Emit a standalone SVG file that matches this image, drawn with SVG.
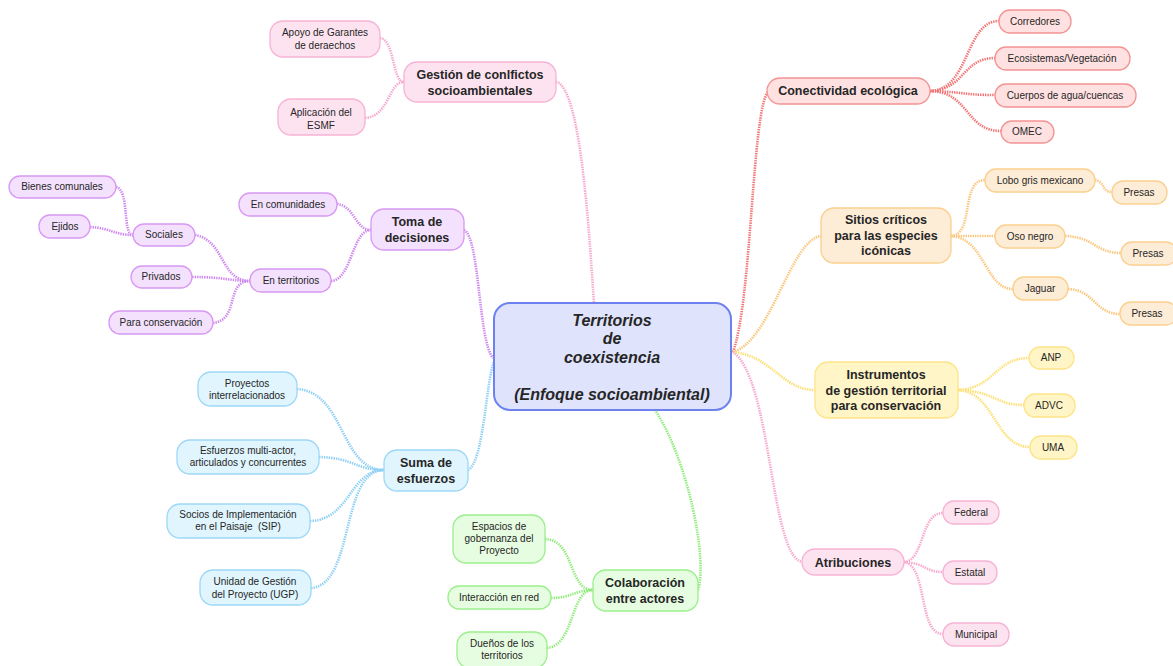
<svg xmlns="http://www.w3.org/2000/svg" width="1173" height="666" viewBox="0 0 1173 666">
<style>
text{font-family:"Liberation Sans",Arial,sans-serif;fill:#262626;text-anchor:middle}
.leaf{font-size:10px}
.main{font-size:12.5px;font-weight:bold}
.ctr{font-size:16px;font-weight:bold;font-style:italic}
rect{stroke-width:1.3}
.pk rect{fill:#fde3f0;stroke:#f8b2d5}
.pu rect{fill:#f3e1fd;stroke:#d898f4}
.bl rect{fill:#e0f5fd;stroke:#9dd7f7}
.gr rect{fill:#e6fde1;stroke:#9bef8b}
.rd rect{fill:#ffe1e1;stroke:#f39393}
.or rect{fill:#fdecd6;stroke:#fbcf8e}
.ye rect{fill:#fff5c6;stroke:#fde488}
.ce rect{fill:#dfe3fb;stroke:#6d82ef;stroke-width:2}
#connectors path{fill:none;stroke-width:2.6;stroke-dasharray:1.4 1}
.cpk{stroke:#f7a8cd}.cpu{stroke:#cf88f0}.cbl{stroke:#8fd0f5}.cgr{stroke:#8eec7a}
.crd{stroke:#f27474}.cor{stroke:#fbc67c}.cye{stroke:#fddf72}
</style>
<rect width="1173" height="666" fill="#ffffff"/>
<g id="connectors">
<path class="cpk" d="M556,82 C582,86 590,250 594,303"/>
<path class="cpk" d="M380,38 C395,40 392,82 404,82"/>
<path class="cpk" d="M365,118 C390,116 388,82 404,82"/>
<path class="cpu" d="M464,230 C480,238 478,340 493,358"/>
<path class="cpu" d="M337,204 C355,206 355,230 371,230"/>
<path class="cpu" d="M331,281 C352,280 352,230 371,230"/>
<path class="cpu" d="M195,235 C225,240 220,281 250,281"/>
<path class="cpu" d="M192,277 C225,277 230,281 250,281"/>
<path class="cpu" d="M213,323 C240,320 225,281 250,281"/>
<path class="cpu" d="M116,187 C130,190 122,235 133,235"/>
<path class="cpu" d="M90,227 C110,228 115,235 133,235"/>
<path class="cbl" d="M468,470 C484,462 486,380 494,362"/>
<path class="cbl" d="M297,389 C345,392 340,470 384,470"/>
<path class="cbl" d="M319,457 C355,458 355,470 384,470"/>
<path class="cbl" d="M310,521 C350,520 350,470 384,470"/>
<path class="cbl" d="M311,588 C355,585 340,470 384,470"/>
<path class="cgr" d="M698,590 C708,560 688,460 655,410"/>
<path class="cgr" d="M545,539 C575,540 568,590 593,590"/>
<path class="cgr" d="M551,598 C572,598 575,590 593,590"/>
<path class="cgr" d="M547,648 C575,645 570,590 593,590"/>
<path class="crd" d="M733,352 C752,300 752,110 768,92"/>
<path class="crd" d="M930,91 C970,90 965,21 999,21"/>
<path class="crd" d="M930,91 C965,90 962,58 995,58"/>
<path class="crd" d="M930,91 C965,92 962,95 995,95"/>
<path class="crd" d="M930,91 C970,92 965,131 1001,131"/>
<path class="cor" d="M733,352 C772,340 790,240 821,236"/>
<path class="cor" d="M951,236 C975,234 960,180 985,180"/>
<path class="cor" d="M951,236 C975,236 975,236 995,236"/>
<path class="cor" d="M951,236 C985,238 985,289 1013,289"/>
<path class="cor" d="M1095,180 C1105,182 1102,192 1112,192"/>
<path class="cor" d="M1065,236 C1095,237 1095,253 1121,253"/>
<path class="cor" d="M1068,289 C1095,290 1095,314 1120,314"/>
<path class="cye" d="M733,352 C772,356 782,390 815,390"/>
<path class="cye" d="M958,390 C995,388 995,358 1029,358"/>
<path class="cye" d="M958,390 C995,391 995,405 1024,405"/>
<path class="cye" d="M958,390 C995,392 995,447 1030,447"/>
<path class="cpk" d="M733,352 C772,380 770,555 802,562"/>
<path class="cpk" d="M904,562 C925,560 920,513 943,513"/>
<path class="cpk" d="M904,562 C925,563 925,572 943,572"/>
<path class="cpk" d="M904,562 C928,566 918,634 943,634"/>
</g>
<g id="center" class="ce"><rect x="494" y="303" width="237" height="107" rx="16"/>
<text class="ctr" x="612" y="326">Territorios</text><text class="ctr" x="612" y="344">de</text><text class="ctr" x="612" y="363">coexistencia</text><text class="ctr" x="612" y="400">(Enfoque socioambiental)</text></g>
<g id="gestion" class="pk"><rect x="404" y="62" width="152" height="40" rx="13"/><text class="main" x="480" y="79">Gestión de conlfictos</text><text class="main" x="480" y="95">socioambientales</text></g>
<g id="apoyo" class="pk"><rect x="270" y="21" width="110" height="36" rx="13"/><text class="leaf" x="325" y="36">Apoyo de Garantes</text><text class="leaf" x="325" y="49">de deraechos</text></g>
<g id="esmf" class="pk"><rect x="278" y="99" width="87" height="36" rx="13"/><text class="leaf" x="321" y="116">Aplicación del</text><text class="leaf" x="321" y="129">ESMF</text></g>
<g id="toma" class="pu"><rect x="371" y="209" width="93" height="41" rx="13"/><text class="main" x="417" y="226">Toma de</text><text class="main" x="417" y="242">decisiones</text></g>
<g id="comunidades" class="pu"><rect x="239" y="193" width="98" height="23" rx="11"/><text class="leaf" x="288" y="208">En comunidades</text></g>
<g id="territorios" class="pu"><rect x="250" y="269" width="81" height="23" rx="11"/><text class="leaf" x="291" y="284">En territorios</text></g>
<g id="sociales" class="pu"><rect x="133" y="224" width="62" height="22" rx="11"/><text class="leaf" x="164" y="238">Sociales</text></g>
<g id="bienes" class="pu"><rect x="9" y="176" width="107" height="22" rx="11"/><text class="leaf" x="62" y="190">Bienes comunales</text></g>
<g id="ejidos" class="pu"><rect x="39" y="215" width="51" height="23" rx="11"/><text class="leaf" x="65" y="230">Ejidos</text></g>
<g id="privados" class="pu"><rect x="131" y="266" width="61" height="22" rx="11"/><text class="leaf" x="161" y="280">Privados</text></g>
<g id="paracons" class="pu"><rect x="109" y="311" width="104" height="23" rx="11"/><text class="leaf" x="161" y="326">Para conservación</text></g>
<g id="suma" class="bl"><rect x="384" y="450" width="84" height="41" rx="13"/><text class="main" x="426" y="467">Suma de</text><text class="main" x="426" y="483">esfuerzos</text></g>
<g id="proyectos" class="bl"><rect x="198" y="372" width="99" height="34" rx="13"/><text class="leaf" x="247" y="387">Proyectos</text><text class="leaf" x="247" y="399">interrelacionados</text></g>
<g id="multiactor" class="bl"><rect x="177" y="440" width="142" height="34" rx="13"/><text class="leaf" x="248" y="454">Esfuerzos multi-actor,</text><text class="leaf" x="248" y="466">articulados y concurrentes</text></g>
<g id="sip" class="bl"><rect x="167" y="504" width="143" height="34" rx="13"/><text class="leaf" x="238" y="518">Socios de Implementación</text><text class="leaf" x="238" y="530" xml:space="preserve">en el Paisaje  (SIP)</text></g>
<g id="ugp" class="bl"><rect x="200" y="570" width="111" height="35" rx="13"/><text class="leaf" x="255" y="585">Unidad de Gestión</text><text class="leaf" x="255" y="598">del Proyecto (UGP)</text></g>
<g id="colab" class="gr"><rect x="593" y="570" width="105" height="41" rx="13"/><text class="main" x="645" y="587">Colaboración</text><text class="main" x="645" y="603">entre actores</text></g>
<g id="espacios" class="gr"><rect x="453" y="515" width="92" height="48" rx="13"/><text class="leaf" x="499" y="530">Espacios de</text><text class="leaf" x="499" y="542">gobernanza del</text><text class="leaf" x="499" y="554">Proyecto</text></g>
<g id="interaccion" class="gr"><rect x="448" y="586" width="103" height="23" rx="11"/><text class="leaf" x="499" y="601">Interacción en red</text></g>
<g id="duenos" class="gr"><rect x="457" y="632" width="90" height="36" rx="13"/><text class="leaf" x="502" y="647">Dueños de los</text><text class="leaf" x="502" y="659">territorios</text></g>
<g id="conectividad" class="rd"><rect x="767" y="78" width="163" height="26" rx="13"/><text class="main" x="848" y="95">Conectividad ecológica</text></g>
<g id="corredores" class="rd"><rect x="999" y="10" width="72" height="23" rx="11"/><text class="leaf" x="1035" y="25">Corredores</text></g>
<g id="ecosistemas" class="rd"><rect x="995" y="47" width="135" height="23" rx="11"/><text class="leaf" x="1062" y="62">Ecosistemas/Vegetación</text></g>
<g id="cuerpos" class="rd"><rect x="995" y="84" width="141" height="23" rx="11"/><text class="leaf" x="1065" y="99">Cuerpos de agua/cuencas</text></g>
<g id="omec" class="rd"><rect x="1001" y="121" width="53" height="22" rx="11"/><text class="leaf" x="1027" y="135">OMEC</text></g>
<g id="sitios" class="or"><rect x="821" y="208" width="130" height="55" rx="13"/><text class="main" x="886" y="224">Sitios críticos</text><text class="main" x="886" y="240">para las especies</text><text class="main" x="886" y="255">icónicas</text></g>
<g id="lobo" class="or"><rect x="985" y="169" width="110" height="23" rx="11"/><text class="leaf" x="1040" y="184">Lobo gris mexicano</text></g>
<g id="presas1" class="or"><rect x="1112" y="181" width="55" height="23" rx="11"/><text class="leaf" x="1139" y="196">Presas</text></g>
<g id="oso" class="or"><rect x="995" y="225" width="70" height="23" rx="11"/><text class="leaf" x="1030" y="240">Oso negro</text></g>
<g id="presas2" class="or"><rect x="1121" y="242" width="56" height="23" rx="11"/><text class="leaf" x="1148" y="257">Presas</text></g>
<g id="jaguar" class="or"><rect x="1013" y="277" width="55" height="23" rx="11"/><text class="leaf" x="1040" y="292">Jaguar</text></g>
<g id="presas3" class="or"><rect x="1120" y="302" width="57" height="23" rx="11"/><text class="leaf" x="1147" y="317">Presas</text></g>
<g id="instrumentos" class="ye"><rect x="815" y="362" width="143" height="56" rx="13"/><text class="main" x="886" y="379">Instrumentos</text><text class="main" x="886" y="395">de gestión territorial</text><text class="main" x="886" y="410">para conservación</text></g>
<g id="anp" class="ye"><rect x="1029" y="347" width="45" height="22" rx="11"/><text class="leaf" x="1051" y="361">ANP</text></g>
<g id="advc" class="ye"><rect x="1024" y="394" width="51" height="23" rx="11"/><text class="leaf" x="1049" y="409">ADVC</text></g>
<g id="uma" class="ye"><rect x="1030" y="436" width="47" height="23" rx="11"/><text class="leaf" x="1053" y="451">UMA</text></g>
<g id="atribuciones" class="pk"><rect x="802" y="549" width="102" height="26" rx="13"/><text class="main" x="853" y="567">Atribuciones</text></g>
<g id="federal" class="pk"><rect x="943" y="501" width="56" height="23" rx="11"/><text class="leaf" x="971" y="516">Federal</text></g>
<g id="estatal" class="pk"><rect x="943" y="561" width="54" height="23" rx="11"/><text class="leaf" x="970" y="576">Estatal</text></g>
<g id="municipal" class="pk"><rect x="943" y="623" width="66" height="23" rx="11"/><text class="leaf" x="976" y="638">Municipal</text></g>
</svg>
